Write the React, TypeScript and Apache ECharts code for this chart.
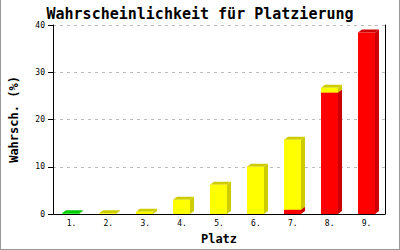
import React, { useEffect, useRef } from "react";
import * as echarts from "echarts";

const categories = ["1.", "2.", "3.", "4.", "5.", "6.", "7.", "8.", "9."];
const redValues = [0, 0, 0, 0, 0, 0, 0.9, 25.7, 38.4];
const yellowValues = [0, 0.15, 0.5, 3.0, 6.2, 10.0, 14.8, 1.0, 0];
const greenValues = [0.15, 0, 0, 0, 0, 0, 0, 0, 0];
const yTicks = { min: 0, max: 40, interval: 10 };

const segColors = [
  { front: "#ff0000", dark: "#cc0000" },
  { front: "#ffff00", dark: "#cccc00" },
  { front: "#00ee00", dark: "#00cc00" },
];

export default function App() {
  const ref = useRef<HTMLDivElement>(null);
  useEffect(() => {
    if (!ref.current) return;
    const chart = echarts.init(ref.current, undefined, { renderer: "svg" });
    const mono = "DejaVu Sans Mono";
    const data = categories.map((_, i) => [i, redValues[i], yellowValues[i], greenValues[i]]);
    chart.setOption({
      animation: false,
      backgroundColor: "#ffffff",
      title: {
        text: "Wahrscheinlichkeit für Platzierung",
        left: "center",
        top: 1,
        textStyle: { fontFamily: mono, fontSize: 15, fontWeight: "bold", color: "#000" },
      },
      grid: { left: 43, right: 15, top: 25, bottom: 29 },
      xAxis: {
        type: "category",
        data: categories,
        name: "Platz",
        nameLocation: "middle",
        nameGap: 19,
        nameTextStyle: { fontFamily: mono, fontSize: 12, fontWeight: "bold", color: "#000" },
        axisLine: { lineStyle: { color: "#000", width: 1 } },
        axisTick: { show: false },
        axisLabel: { fontFamily: mono, fontSize: 8, color: "#000", margin: 5 },
      },
      yAxis: [
        {
          type: "value",
          min: yTicks.min,
          max: yTicks.max,
          interval: yTicks.interval,
          name: "Wahrsch. (%)",
          nameLocation: "middle",
          nameGap: 33,
          nameTextStyle: { fontFamily: mono, fontSize: 12, fontWeight: "bold", color: "#000" },
          axisLine: { show: true, lineStyle: { color: "#000", width: 1 } },
          axisTick: { show: true, length: 5, lineStyle: { color: "#000" } },
          axisLabel: { fontFamily: mono, fontSize: 8, color: "#000", margin: 8 },
          splitLine: { show: true, lineStyle: { color: "#bbbbbb", type: [3, 4] } },
        },
        {
          type: "value",
          position: "right",
          min: yTicks.min,
          max: yTicks.max,
          interval: yTicks.interval,
          axisLine: { show: true, lineStyle: { color: "#000", width: 1 } },
          axisTick: { show: false },
          axisLabel: { show: false },
          splitLine: { show: false },
        },
      ],
      series: [
        {
          type: "custom",
          data,
          encode: { x: 0, y: [1] },
          renderItem: (params: any, api: any) => {
            const idx = api.value(0);
            const vals = [api.value(1), api.value(2), api.value(3)];
            const center = api.coord([idx, 0])[0];
            const x0 = Math.round(center) - 9;
            const w = 17;
            const x1 = x0 + w;
            const dx = 4;
            const dy = 3;
            const children: any[] = [];
            let base = 0;
            vals.forEach((v: number, s: number) => {
              if (!v || v <= 0) return;
              const yB = api.coord([idx, base])[1];
              const yT = api.coord([idx, base + v])[1];
              base += v;
              const c = segColors[s];
              children.push({
                type: "polygon",
                shape: { points: [[x1, yT], [x1 + dx, yT - dy], [x1 + dx, yB - dy], [x1, yB]] },
                style: { fill: c.dark },
              });
              children.push({
                type: "polygon",
                shape: { points: [[x0, yT], [x0 + dx, yT - dy], [x1 + dx, yT - dy], [x1, yT]] },
                style: { fill: c.dark },
              });
              children.push({
                type: "rect",
                shape: { x: x0, y: yT, width: w, height: yB - yT },
                style: { fill: c.front },
              });
            });
            return { type: "group", children };
          },
        },
      ],
      graphic: [
        { type: "line", shape: { x1: 0.5, y1: 0, x2: 0.5, y2: 250 }, style: { stroke: "#999", lineWidth: 1 } },
        { type: "line", shape: { x1: 399.5, y1: 0, x2: 399.5, y2: 250 }, style: { stroke: "#999", lineWidth: 1 } },
        { type: "line", shape: { x1: 0, y1: 249.5, x2: 400, y2: 249.5 }, style: { stroke: "#999", lineWidth: 1 } },
      ],
    });
    return () => chart.dispose();
  }, []);
  return (
    <div
      ref={ref}
      style={{ position: "absolute", left: 0, top: 0, width: 400, height: 250 }}
    />
  );
}
